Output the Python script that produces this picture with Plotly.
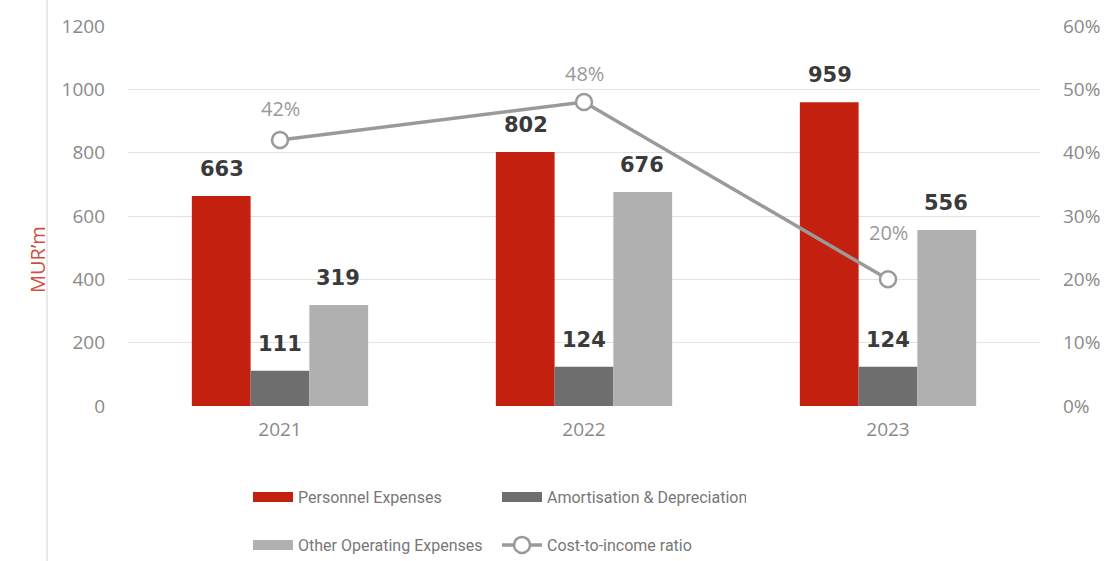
import plotly.graph_objects as go

years = ["2021", "2022", "2023"]
personnel = [663, 802, 959]
amortisation = [111, 124, 124]
other_opex = [319, 676, 556]
cost_income = [42, 48, 20]  # percent

RED = "#c42010"
DARK = "#6e6e6e"
LIGHT = "#b0b0b0"
LINE = "#9a9a9a"
TICK_FONT = dict(family="Open Sans", size=19, color="#8a8a8a")
LABEL_FONT = dict(family="DejaVu Sans", size=21, color="#3a3a3a", weight="bold")

fig = go.Figure()

series = [
    ("Personnel Expenses", personnel, RED),
    ("Amortisation & Depreciation", amortisation, DARK),
    ("Other Operating Expenses", other_opex, LIGHT),
]
for name, vals, col in series:
    fig.add_trace(go.Bar(
        x=years, y=vals, name=name, marker=dict(color=col, line=dict(width=0)),
        showlegend=False,
    ))

fig.add_trace(go.Scatter(
    x=years, y=cost_income, name="Cost-to-income ratio", yaxis="y2",
    mode="lines+markers",
    line=dict(color=LINE, width=3.5),
    marker=dict(symbol="circle", size=16, color="white",
                line=dict(color=LINE, width=2.5)),
    legend="legend2",
))

# legend swatches drawn as wide rectangles
legend_of = {"Personnel Expenses": "legend", "Amortisation & Depreciation": "legend",
             "Other Operating Expenses": "legend2"}
for name, vals, col in series:
    fig.add_trace(go.Scatter(
        x=[years[0]], y=[None], mode="lines", name=name,
        line=dict(color=col, width=11), legend=legend_of[name],
        legendrank=1 if name == "Other Operating Expenses" else 1000,
    ))

# value labels above the bars (category index used for x)
offsets = [-58, 0, 58]
for (name, vals, col), dx in zip(series, offsets):
    for i, v in enumerate(vals):
        fig.add_annotation(x=i, y=v, xref="x", yref="y", text=str(v), showarrow=False,
                           xshift=dx, yshift=27, font=LABEL_FONT)

# ratio labels above the markers
ratio_shift = [32, 29, 47]
for i, (v, s) in enumerate(zip(cost_income, ratio_shift)):
    fig.add_annotation(x=i, y=v, xref="x", yref="y2", text=f"{v}%", showarrow=False,
                       yshift=s, font=dict(family="Open Sans", size=20, color="#999999"))

# thin page rule on the far left
fig.add_shape(type="line", xref="paper", yref="paper",
              x0=(47 - 128) / 912, x1=(47 - 128) / 912, y0=-155 / 380, y1=1 + 26 / 380,
              line=dict(color="#e3e3e3", width=1.5))

fig.add_annotation(xref="paper", yref="paper", x=(22 - 128) / 912, y=(406 - 295) / 380,
                   text="MUR’m", textangle=-90, showarrow=False,
                   font=dict(family="Open Sans", size=20, color="#d0503f"))

legend_common = dict(
    orientation="h", xref="container", yref="container",
    xanchor="left", yanchor="middle", entrywidth=194, entrywidthmode="pixels",
    font=dict(family="Roboto", size=16, color="#777777"),
    bgcolor="rgba(0,0,0,0)", itemwidth=40, traceorder="normal",
)

fig.update_layout(
    width=1116, height=561,
    margin=dict(l=128, r=76, t=26, b=155),
    paper_bgcolor="white", plot_bgcolor="white",
    barmode="group", bargap=0.42, bargroupgap=0,
    xaxis=dict(type="category", categoryorder="array", categoryarray=years,
               range=[-0.5, 2.5], showgrid=False, showline=False, ticks="",
               tickfont=TICK_FONT, ticklabelstandoff=10),
    yaxis=dict(range=[0, 1200], dtick=200, showgrid=True, gridcolor="#e2e2e2",
               gridwidth=1, zeroline=False, showline=False, ticks="",
               tickfont=TICK_FONT, ticklabelstandoff=22),
    yaxis2=dict(range=[0, 60], dtick=10, overlaying="y", side="right",
                showgrid=False, zeroline=False, showline=False, ticks="",
                ticksuffix="%", tickfont=TICK_FONT, ticklabelstandoff=22),
    legend=dict(x=248 / 1116, y=(561 - 497) / 561, **legend_common),
    legend2=dict(x=248 / 1116, y=(561 - 545) / 561, **legend_common),
)

fig.write_html("out.html")
